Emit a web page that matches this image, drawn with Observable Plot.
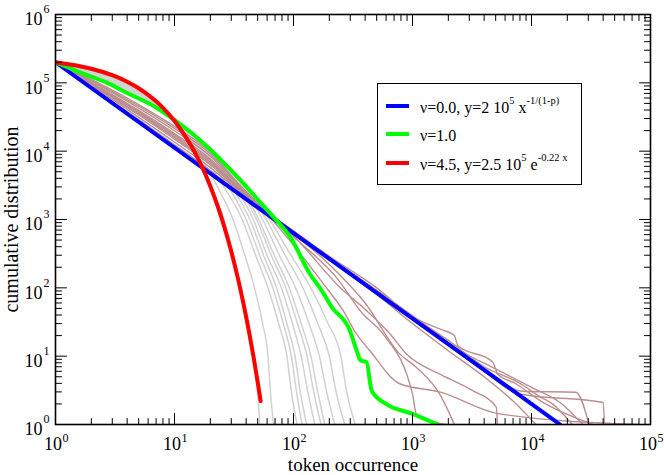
<!DOCTYPE html>
<html>
<head>
<meta charset="utf-8">
<script src="https://cdn.jsdelivr.net/npm/d3@7"></script>
<script src="https://cdn.jsdelivr.net/npm/@observablehq/plot@0.6"></script>
<style>
  body { margin: 0; background: #fff; }
  #wrap { position: relative; width: 664px; height: 475px; font-family: "Liberation Serif", "DejaVu Serif", serif; }
  #legend { position: absolute; left: 377px; top: 83px; width: 205px; height: 102px; border: 1px solid #000; background: #fff; box-sizing: border-box; font-size: 16px; }
  .sw { position: absolute; left: 8px; width: 23px; height: 4px; }
  .lbl { position: absolute; left: 42px; white-space: nowrap; line-height: 1; color: #000; }
  .lbl sup { font-size: 10.5px; line-height: 0; vertical-align: baseline; position: relative; top: -9px; }
</style>
</head>
<body>
<div id="wrap"></div>
<script>
// ---------- data ----------
const xMajor = [1, 10, 100, 1000, 10000, 100000];
const yMajor = [1, 10, 100, 1000, 10000, 100000, 1000000];

// nu = 0.0 : power law, straight line in log-log (end points)
const blueLine = [[1, 200000], [17400, 1]];

// nu = 1.0
const greenLine = [[1,200000],[2,123000],[2.62,103000],[4,70800],[6.89,44300],[10,28500],[14,18300],[20,10600],[27,6300],[36,3730],[48,2130],[68,1084],[94,552],[137,161],[172,92],[210,52],[297,24],[340,12],[365,8.7],[410,8.2],[455,3.1],[600,2.0],[1000,1.43],[1630,1]];

// nu = 4.5 : exponential
const redLine = [[1,200600],[2,161000],[3,129200],[4,103700],[5,83200],[6,66800],[7,53600],[8,43000],[10,27700],[12,17800],[14,11500],[16,7400],[18,4770],[20,3070],[23,1590],[26,820],[30,340],[34,141],[38,58.5],[42,24.3],[46,10.1],[50,4.18],[53,2.2]];

// grey curves (1 < nu < 4.5): x read at common y levels
const grayY = [200000, 120000, 60000, 30000, 10000, 3000, 1000, 300, 100, 30, 10, 3, 1];
const grayX = [
  [1, 3.3, 6.5, 9.6, 14.6, 20, 26, 31, 36, 41, 46, 50, 52],
  [1, 3.2, 6.3, 9.65, 15.5, 23, 31, 39, 47, 55, 61, 64, 68],
  [1, 3.1, 6.1, 9.7, 16.3, 26, 37, 48, 61, 75, 88, 96, 107],
  [1, 3.0, 6.0, 9.75, 17, 28.5, 40, 52, 67, 82, 96, 106, 118],
  [1, 2.9, 5.8, 9.8, 17.7, 30.5, 43, 56, 72, 88, 103, 114, 129],
  [1, 2.8, 5.7, 9.85, 18.4, 32.5, 46, 60, 79, 98, 116, 132, 151],
  [1, 2.7, 5.5, 9.9, 19, 34.5, 49, 65, 86, 108, 130, 148, 170],
  [1, 2.6, 5.4, 9.95, 19.6, 36, 51, 69, 92, 116, 140, 160, 183],
  [1, 2.5, 5.3, 10, 20.1, 37.5, 55, 76, 104, 135, 165, 190, 222],
  [1, 2.4, 5.2, 10.1, 20.6, 39, 59, 85, 120, 160, 200, 228, 270],
  [1, 2.3, 5.1, 10.2, 21, 40, 63, 95, 140, 195, 250, 280, 330]
];

// brown curves (0 < nu < 1)
const brown1 = [[1,2e5],[2,112000],[5,48000],[10,23000],[20,9700],[35,3250],[50,1740],[100,560],[230,141],[380,42],[560,21.5],[1000,2.8],[1075,1.45],[1920,1]];
const brown2 = [[1,2e5],[2,109000],[5,45500],[10,21500],[20,9100],[35,3150],[50,1700],[95,470],[178,115],[261,46.6],[337,21.3],[437,12.1],[781,3.95],[1690,3],[5370,1.43],[80000,1]];
const brown3 = [[1,2e5],[2,105700],[5,42700],[10,19900],[20,8430],[35,3000],[50,1680],[100,580],[245,102],[410,46.6],[643,21.5],[890,10.8],[1680,5.5],[2480,3.95],[3180,3.15],[5060,1.8],[5170,1]];
const brown4 = [[1,2e5],[2,101800],[5,39500],[10,18100],[20,7660],[35,2850],[50,1650],[100,620],[200,220],[400,60],[781,10.8],[1075,6.9],[1690,2.8],[2250,1]];
const brown5 = [[1,2e5],[2,98000],[5,36600],[10,16500],[20,6950],[35,2750],[50,1620],[100,670],[200,280],[500,92],[1000,39],[2000,16],[4000,6.5],[8400,3.07],[23600,2.97],[30500,1]];
const brown6 = [[1,2e5],[2,94400],[5,33800],[10,15000],[20,6310],[35,2650],[50,1600],[100,665],[200,275],[500,90],[1000,37],[2000,15],[4000,6],[7940,2.8],[40000,2.1],[41000,1]];
const brown7 = [[1,2e5],[2,90800],[5,31300],[10,13600],[20,5740],[35,2550],[50,1580],[100,660],[200,270],[500,88],[1000,38],[2000,17],[4000,7],[8000,4],[12000,2.5],[15000,2],[22000,1]];
const brown8 = [[1,2e5],[2,87400],[5,28900],[10,12400],[20,5210],[35,2450],[50,1560],[100,650],[200,268],[500,85],[1000,36],[2500,12],[5000,6.5],[10000,3.5],[18000,2],[27000,1]];
const brown9 = [[1,2e5],[2,100000],[5,38000],[10,17300],[20,7300],[35,2800],[50,1640],[100,655],[200,265],[500,80],[1000,30],[2000,12],[4000,5],[7000,2.2],[10900,1]];
const brown10 = [[1,2e5],[2,96000],[5,35200],[10,15700],[20,6600],[35,2700],[50,1610],[100,680],[200,290],[500,100],[1000,38],[1690,25],[2250,20],[2400,14.3],[4720,8.2],[5200,5.5],[7400,3.95],[12000,2.2],[33000,1]];
const brownSeries = [brown1, brown2, brown3, brown4, brown5, brown6, brown7, brown8, brown9, brown10];

const xLabel = "token occurrence";
const yLabel = "cumulative distribution";

// ---------- build ----------
const toRows = (pts, s) => pts.map(([x, y]) => ({x, y, s}));
const grayRows = grayX.flatMap((xs, i) => xs.map((x, j) => ({x, y: grayY[j], s: i})));
const brownRows = brownSeries.flatMap((pts, i) => toRows(pts, i));

function minorsOf(majors) {
  const out = [];
  for (let i = 0; i < majors.length - 1; i++)
    for (let k = 2; k <= 9; k++) out.push(majors[i] * k);
  return out;
}
const xMinor = minorsOf(xMajor);
const yMinor = minorsOf(yMajor);

const tickShape = {draw(ctx, l) { ctx.moveTo(0, 0); ctx.lineTo(0, -l); }};
const tk = {anchor: "start", shape: tickShape, stroke: "#000", strokeWidth: 1};
const font = "Liberation Serif";
const txt = {fill: "#000", fontFamily: font, lineAnchor: "middle"};

const chart = Plot.plot({
  width: 664,
  height: 475,
  marginLeft: 55,
  marginRight: 14,
  marginTop: 14,
  marginBottom: 51,
  style: {fontFamily: font, background: "#fff"},
  x: {type: "log", domain: [1, 1e5], axis: null},
  y: {type: "log", domain: [1, 1e6], axis: null},
  marks: [
    Plot.line(grayRows, {x: "x", y: "y", z: "s", stroke: "#d2d2d2", strokeWidth: 1.5, curve: "monotone-x", clip: true}),
    Plot.line(brownRows, {x: "x", y: "y", z: "s", stroke: "#bc8f8f", strokeWidth: 1.4, curve: "monotone-x", clip: true}),
    Plot.line(toRows(blueLine, 0), {x: "x", y: "y", stroke: "#0000ff", strokeWidth: 4, clip: true}),
    Plot.line(toRows(greenLine, 0), {x: "x", y: "y", stroke: "#00ff00", strokeWidth: 4, curve: "monotone-x", clip: true}),
    Plot.line(toRows(redLine, 0), {x: "x", y: "y", stroke: "#ff0000", strokeWidth: 4, curve: "monotone-x", clip: true}),
    // inward ticks on all four sides
    Plot.vector(xMajor, {x: d => d, frameAnchor: "bottom", rotate: 0, length: 11, ...tk}),
    Plot.vector(xMinor, {x: d => d, frameAnchor: "bottom", rotate: 0, length: 6, ...tk}),
    Plot.vector(xMajor, {x: d => d, frameAnchor: "top", rotate: 180, length: 11, ...tk}),
    Plot.vector(xMinor, {x: d => d, frameAnchor: "top", rotate: 180, length: 6, ...tk}),
    Plot.vector(yMajor, {y: d => d, frameAnchor: "left", rotate: 90, length: 11, ...tk}),
    Plot.vector(yMinor, {y: d => d, frameAnchor: "left", rotate: 90, length: 6, ...tk}),
    Plot.vector(yMajor, {y: d => d, frameAnchor: "right", rotate: -90, length: 11, ...tk}),
    Plot.vector(yMinor, {y: d => d, frameAnchor: "right", rotate: -90, length: 6, ...tk}),
    Plot.frame({stroke: "#000", strokeWidth: 1.6}),
    // tick labels 10^n
    Plot.text(xMajor, {x: d => d, text: () => "10", frameAnchor: "bottom", dy: 19.5, dx: -2.5, textAnchor: "middle", fontSize: 18, ...txt}),
    Plot.text(xMajor, {x: d => d, text: d => String(Math.round(Math.log10(d))), frameAnchor: "bottom", dy: 13.5, dx: 7, textAnchor: "start", fontSize: 12, ...txt}),
    Plot.text(yMajor, {y: d => d, text: () => "10", frameAnchor: "left", dx: -13, dy: 5, textAnchor: "end", fontSize: 18, ...txt}),
    Plot.text(yMajor, {y: d => d, text: d => String(Math.round(Math.log10(d))), frameAnchor: "left", dx: -12, dy: -5, textAnchor: "start", fontSize: 12, ...txt}),
    // axis titles
    Plot.text([xLabel], {text: d => d, frameAnchor: "bottom", dy: 40.7, textAnchor: "middle", fontSize: 19, ...txt}),
    Plot.text([yLabel], {text: d => d, frameAnchor: "left", dx: -44, rotate: -90, textAnchor: "middle", fontSize: 20, ...txt})
  ]
});

const wrap = document.getElementById("wrap");
wrap.appendChild(chart);

const legend = document.createElement("div");
legend.id = "legend";
legend.innerHTML = `
  <div class="sw" style="top:20px;background:#0000ff"></div>
  <div class="lbl" style="top:16px">ν=0.0, y=2 10<sup>5</sup> x<sup>-1/(1-p)</sup></div>
  <div class="sw" style="top:48px;background:#00ff00"></div>
  <div class="lbl" style="top:44px">ν=1.0</div>
  <div class="sw" style="top:76.5px;background:#ff0000"></div>
  <div class="lbl" style="top:72.5px">ν=4.5, y=2.5 10<sup>5</sup> e<sup>-0.22 x</sup></div>`;
wrap.appendChild(legend);
</script>
</body>
</html>
